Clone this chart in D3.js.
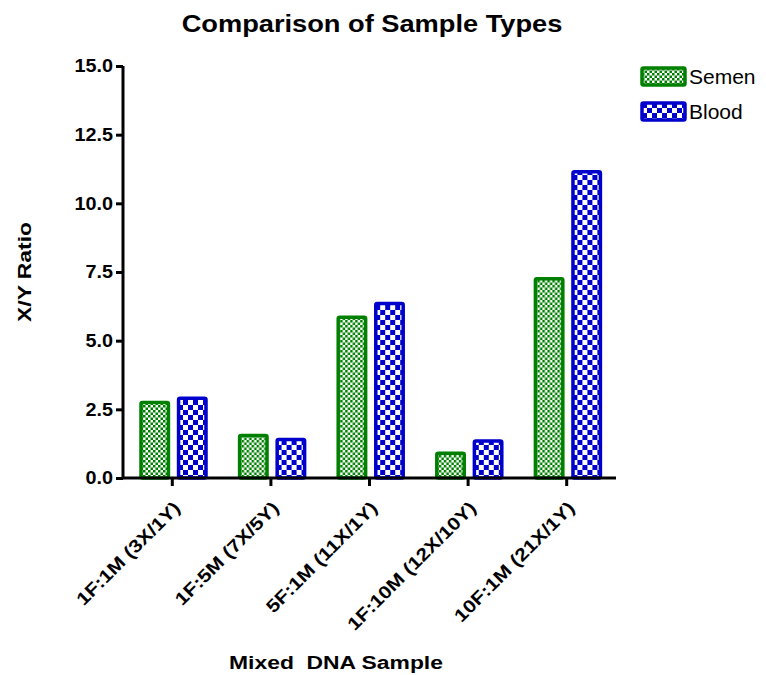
<!DOCTYPE html>
<html>
<head>
<meta charset="utf-8">
<script src="https://cdn.jsdelivr.net/npm/d3@7"></script>
<style>
  body { margin: 0; background: #fff; }
  text { font-family: Arial, "Liberation Sans", sans-serif; }
</style>
</head>
<body>
<script>
// data
var categories = ['1F:1M (3X/1Y)', '1F:5M (7X/5Y)', '5F:1M (11X/1Y)', '1F:10M (12X/10Y)', '10F:1M (21X/1Y)'];
var seriesNames = ['Semen', 'Blood'];
var semen = [2.75, 1.55, 5.85, 0.9, 7.25];
var blood = [2.9, 1.4, 6.35, 1.35, 11.15];
var yTicks = [0, 2.5, 5, 7.5, 10, 12.5, 15];

var colors = { Semen: '#008000', Blood: '#0000cc' };

var width = 766, height = 675;
var svg = d3.select('body').append('svg').attr('width', width).attr('height', height);

var defs = svg.append('defs');
// fine checker for semen
var p1 = defs.append('pattern').attr('id', 'pSemen').attr('patternUnits', 'userSpaceOnUse')
  .attr('width', 5).attr('height', 5);
p1.append('rect').attr('width', 5).attr('height', 5).attr('fill', '#fff');
p1.append('rect').attr('width', 2.5).attr('height', 2.5).attr('fill', colors.Semen);
p1.append('rect').attr('x', 2.5).attr('y', 2.5).attr('width', 2.5).attr('height', 2.5).attr('fill', colors.Semen);
// coarse checker for blood
var p2 = defs.append('pattern').attr('id', 'pBlood').attr('patternUnits', 'userSpaceOnUse')
  .attr('width', 10).attr('height', 10);
p2.append('rect').attr('width', 10).attr('height', 10).attr('fill', '#fff');
p2.append('rect').attr('width', 5).attr('height', 5).attr('fill', colors.Blood);
p2.append('rect').attr('x', 5).attr('y', 5).attr('width', 5).attr('height', 5).attr('fill', colors.Blood);

var x0 = d3.scaleBand().domain(categories).range([123, 616]).paddingInner(0).paddingOuter(0);
var x1 = d3.scaleBand().domain(seriesNames).range([18, 83]).paddingInner(0.27);
var y = d3.scaleLinear().domain([0, 15]).range([478, 66]);

var rows = categories.map(function (c, i) {
  return { cat: c, vals: [{ name: 'Semen', v: semen[i] }, { name: 'Blood', v: blood[i] }] };
});

var g = svg.append('g').selectAll('g').data(rows).enter().append('g')
  .attr('transform', function (d) { return 'translate(' + x0(d.cat) + ',0)'; });

g.selectAll('rect').data(function (d) { return d.vals; }).enter().append('rect')
  .attr('x', function (d) { return x1(d.name); })
  .attr('width', x1.bandwidth())
  .attr('y', function (d) { return y(d.v); })
  .attr('height', function (d) { return y(0) - y(d.v); })
  .attr('rx', 1.5)
  .attr('fill', function (d) { return 'url(#p' + d.name + ')'; })
  .attr('stroke', function (d) { return colors[d.name]; })
  .attr('stroke-width', 3.5);

// y axis
var yAxis = svg.append('g').attr('transform', 'translate(123,0)')
  .call(d3.axisLeft(y).tickValues(yTicks).tickFormat(d3.format('.1f')).tickSize(7).tickPadding(2));
yAxis.select('.domain').attr('stroke-width', 3).attr('d', 'M0,' + y(15) + 'V' + y(0));
yAxis.selectAll('.tick line').attr('stroke-width', 3);
yAxis.selectAll('text').style('font-size', '18px').style('font-weight', 'bold').attr('fill', '#000')
  .attr('x', 0).attr('transform', 'translate(-10,0) scale(1.1,1)');

// x axis
var xAxis = svg.append('g').attr('transform', 'translate(0,' + y(0) + ')')
  .call(d3.axisBottom(x0).tickSize(8).tickSizeOuter(0));
xAxis.select('.domain').attr('stroke-width', 3).attr('d', 'M123,0H616');
xAxis.selectAll('.tick line').attr('stroke-width', 3);
xAxis.selectAll('text')
  .style('font-size', '18px').style('font-weight', 'bold').attr('fill', '#000')
  .attr('text-anchor', 'end')
  .attr('dy', 0).attr('y', 0)
  .attr('transform', 'translate(9,31) rotate(-45) scale(1.17,1)');

// stretch a single label to the width it has in the original
function fit(sel, w) {
  var k = w / sel.node().getComputedTextLength();
  sel.attr('transform', sel.attr('transform') + ' scale(' + k + ',1)');
}

// title + axis labels
svg.append('text').attr('transform', 'translate(372,32)').attr('text-anchor', 'middle')
  .style('font-size', '24px').style('font-weight', 'bold').text('Comparison of Sample Types')
  .call(fit, 381);
svg.append('text').attr('transform', 'translate(31,272) rotate(-90)').attr('text-anchor', 'middle')
  .style('font-size', '19px').style('font-weight', 'bold').text('X/Y Ratio')
  .call(fit, 100);
svg.append('text').attr('transform', 'translate(336,669)').attr('text-anchor', 'middle')
  .style('font-size', '19px').style('font-weight', 'bold').style('white-space', 'pre')
  .text('Mixed  DNA Sample')
  .call(fit, 214);

// legend
var leg = svg.append('g').selectAll('g').data(seriesNames).enter().append('g')
  .attr('transform', function (d, i) { return 'translate(642,' + (68 + i * 35) + ')'; });
leg.append('rect').attr('width', 43).attr('height', 17).attr('rx', 1.5)
  .attr('fill', function (d) { return 'url(#p' + d + ')'; })
  .attr('stroke', function (d) { return colors[d]; }).attr('stroke-width', 3.5);
leg.append('text').attr('x', 47).attr('y', 16).style('font-size', '21px').text(function (d) { return d; });
</script>
</body>
</html>
